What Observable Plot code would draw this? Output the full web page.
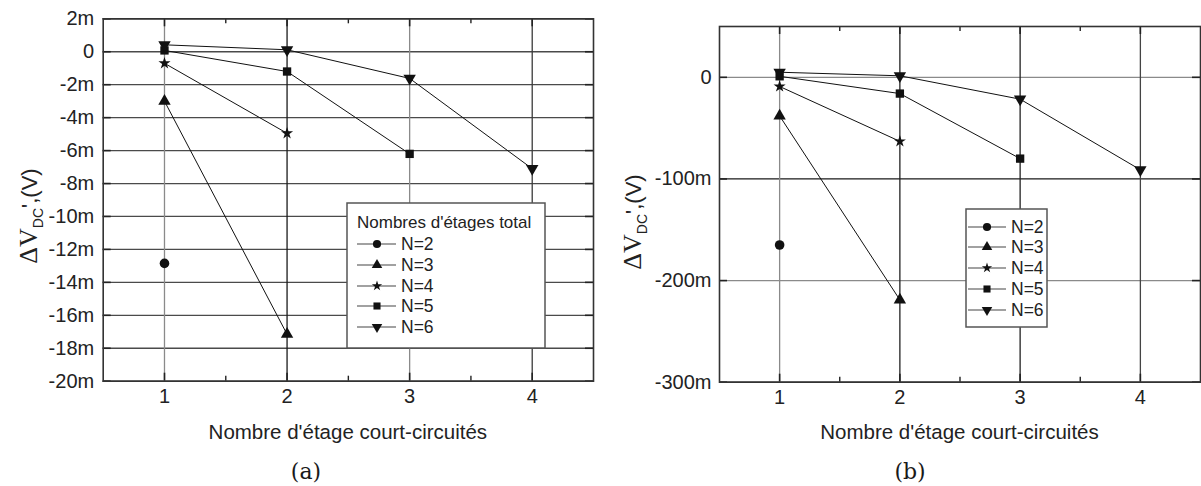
<!DOCTYPE html>
<html>
<head>
<meta charset="utf-8">
<script src="https://cdn.jsdelivr.net/npm/d3@7"></script>
<script src="https://cdn.jsdelivr.net/npm/@observablehq/plot@0.6"></script>
<style>
  html, body { margin: 0; padding: 0; background: #fff; }
  #wrap { position: relative; width: 1201px; height: 486px; overflow: hidden;
          font-family: "Liberation Sans", Arial, sans-serif; color: #222; }
  .panel { position: absolute; top: 0; }
  .legend { position: absolute; }
  .xtitle { position: absolute; font-size: 20.5px; text-align: center; line-height: 22px; white-space: nowrap; }
  .cap { position: absolute; font-family: "DejaVu Serif", "Liberation Serif", serif; font-size: 22px;
         text-align: center; width: 80px; line-height: 26px; color: #1a1a1a; }
</style>
</head>
<body>
<div id="wrap"></div>
<script>
// ---------- data ----------
const stages = [1, 2, 3, 4];
const minorStages = [1.5, 2.5, 3.5];
const seriesNames = ["N=2", "N=3", "N=4", "N=5", "N=6"];

// panel (a) values, in mV, for stages 1..n
const aN2 = [-12.85];
const aN3 = [-3.0, -17.15];
const aN4 = [-0.7, -4.95];
const aN5 = [0.08, -1.2, -6.2];
const aN6 = [0.42, 0.12, -1.62, -7.1];

// panel (b) values, in mV
const bN2 = [-165];
const bN3 = [-38, -219];
const bN4 = [-9, -63];
const bN5 = [1, -16, -80];
const bN6 = [5, 1.5, -21.5, -91];

const yTicksA = [2, 0, -2, -4, -6, -8, -10, -12, -14, -16, -18, -20];
const yTicksB = [0, -100, -200, -300];

const xTitleText = "Nombre d'étage court-circuités";
const legendTitleText = "Nombres d'étages total";
const captionA = "(a)";
const captionB = "(b)";

// ---------- symbols ----------
const triDown = {
  draw(ctx, size) {
    const s3 = Math.sqrt(3);
    const y = -Math.sqrt(size / (s3 * 3));
    ctx.moveTo(0, -y * 2);
    ctx.lineTo(-s3 * y, y);
    ctx.lineTo(s3 * y, y);
    ctx.closePath();
  }
};
const symbolTypes = [d3.symbolCircle, d3.symbolTriangle, d3.symbolStar, d3.symbolSquare, triDown];
const symbolR = {"N=2": 4.8, "N=3": 4.6, "N=4": 3.8, "N=5": 4.7, "N=6": 4.6};

const fmtM = d => d === 0 ? "0" : `${d}m`;
const fmtX = d => String(d);
const wrap = document.getElementById("wrap");

function makePanel(cfg) {
  const rows = [];
  cfg.series.forEach((vals, i) => vals.forEach((v, j) => rows.push({s: seriesNames[i], x: stages[j], y: v})));
  const plotH = cfg.height - cfg.mt - cfg.mb;
  const plotW = cfg.width - cfg.ml - cfg.mr;
  const svg = Plot.plot({
    width: cfg.width, height: cfg.height,
    marginLeft: cfg.ml, marginRight: cfg.mr, marginTop: cfg.mt, marginBottom: cfg.mb,
    x: {domain: [0.5, 4.5]},
    y: {domain: cfg.yDomain},
    r: {type: "identity"},
    symbol: {domain: seriesNames, range: symbolTypes},
    style: {fontFamily: "'Liberation Sans', Arial, sans-serif", fontSize: "20px", color: "#222", background: "transparent", overflow: "visible"},
    marks: [
      Plot.gridY(cfg.yTicks, {stroke: d => cfg.yGrid(d), strokeOpacity: 1, strokeWidth: 1.3}),
      Plot.gridX(stages, {stroke: d => cfg.xGrid(d), strokeOpacity: 1, strokeWidth: 1.3}),
      Plot.ruleX(stages, {insetTop: plotH - 8, stroke: "#222", strokeWidth: 1.6}),
      Plot.ruleX(stages, {insetBottom: plotH - 8, stroke: "#222", strokeWidth: 1.6}),
      Plot.ruleX(minorStages, {insetTop: plotH - 5, stroke: "#222", strokeWidth: 1.4}),
      Plot.ruleX(minorStages, {insetBottom: plotH - 5, stroke: "#222", strokeWidth: 1.4}),
      Plot.ruleY(cfg.yTicks, {insetRight: plotW - 8, stroke: "#222", strokeWidth: 1.6}),
      Plot.ruleY(cfg.yTicks, {insetLeft: plotW - 8, stroke: "#222", strokeWidth: 1.6}),
      Plot.frame({stroke: "#333", strokeWidth: 1.6}),
      Plot.axisY(cfg.yTicks, {tickSize: 0, tickPadding: cfg.yPad, tickFormat: fmtM, label: null, fontSize: 20}),
      Plot.axisX(stages, {tickSize: 0, tickPadding: 8, tickFormat: fmtX, label: null, fontSize: 20}),
      Plot.line(rows, {x: "x", y: "y", z: "s", stroke: "#111", strokeWidth: 1}),
      Plot.dot(rows, {x: "x", y: "y", symbol: "s", r: d => symbolR[d.s], fill: "#111", stroke: "none"})
    ]
  });
  svg.classList.add("panel");
  svg.style.left = cfg.left + "px";
  // y label with subscript
  const t = d3.select(svg).append("text")
    .attr("transform", `translate(${cfg.ylx},${cfg.yly}) rotate(-90)`)
    .attr("text-anchor", "middle")
    .attr("fill", "#222");
  t.append("tspan").attr("font-family", "'Liberation Serif', 'DejaVu Serif', serif").attr("font-size", 26).text("ΔV");
  t.append("tspan").attr("font-family", "'Liberation Sans', Arial, sans-serif").attr("font-size", 14).attr("dy", 6).text("DC");
  t.append("tspan").attr("font-family", "'Liberation Sans', Arial, sans-serif").attr("font-size", 22).attr("dy", -6).text("',(V)");
  wrap.appendChild(svg);

  const xt = document.createElement("div");
  xt.className = "xtitle";
  xt.style.left = (cfg.left + cfg.ml) + "px";
  xt.style.width = plotW + "px";
  xt.style.top = "421px";
  xt.textContent = xTitleText;
  wrap.appendChild(xt);

  const cap = document.createElement("div");
  cap.className = "cap";
  cap.style.left = (cfg.left + cfg.capX - 40) + "px";
  cap.style.top = "459px";
  cap.textContent = cfg.caption;
  wrap.appendChild(cap);
}

function makeLegend(cfg) {
  const svg = d3.create("svg")
    .attr("class", "legend")
    .attr("width", cfg.w + 2).attr("height", cfg.h + 2)
    .style("left", (cfg.x - 1) + "px").style("top", (cfg.y - 1) + "px")
    .style("position", "absolute");
  svg.append("rect").attr("x", 1).attr("y", 1).attr("width", cfg.w).attr("height", cfg.h)
    .attr("fill", "#fff").attr("stroke", "#555").attr("stroke-width", 1.5);
  const ff = "'Liberation Sans', Arial, sans-serif";
  if (cfg.title) {
    svg.append("text").attr("x", cfg.titleX).attr("y", cfg.titleY).attr("font-family", ff)
      .attr("font-size", 17).attr("fill", "#222").attr("dominant-baseline", "middle").text(cfg.title);
  }
  seriesNames.forEach((name, i) => {
    const y = cfg.rowY[i];
    svg.append("line").attr("x1", cfg.lx1).attr("x2", cfg.lx2).attr("y1", y).attr("y2", y)
      .attr("stroke", "#444").attr("stroke-width", 1.2);
    const rr = symbolR[name] * 0.85;
    svg.append("path").attr("d", d3.symbol(symbolTypes[i], Math.PI * rr * rr)())
      .attr("transform", `translate(${cfg.mx},${y})`).attr("fill", "#111");
    svg.append("text").attr("x", cfg.tx).attr("y", y + 1).attr("font-family", ff)
      .attr("font-size", 17.5).attr("fill", "#222").attr("dominant-baseline", "middle").text(name);
  });
  wrap.appendChild(svg.node());
}

makePanel({
  left: 0, width: 600, height: 420, ml: 102.7, mr: 7, mt: 18.3, mb: 39.3,
  yDomain: [-20, 2], yTicks: yTicksA, yPad: 9,
  series: [aN2, aN3, aN4, aN5, aN6],
  xGrid: d => ({1: "#8a8a8a", 2: "#1a1a1a", 3: "#8a8a8a", 4: "#3a3a3a"}[d]),
  yGrid: d => "#4a4a4a",
  ylx: 37, yly: 216, caption: captionA, capX: 306
});
makePanel({
  left: 600, width: 601, height: 420, ml: 119, mr: 1, mt: 26, mb: 38.3,
  yDomain: [-300, 50], yTicks: yTicksB, yPad: 8,
  series: [bN2, bN3, bN4, bN5, bN6],
  xGrid: d => ({1: "#8a8a8a", 2: "#222", 3: "#222", 4: "#444"}[d]),
  yGrid: d => ({0: "#8a8a8a", "-100": "#1a1a1a", "-200": "#8a8a8a", "-300": "#333"}[d]),
  ylx: 41, yly: 222, caption: captionB, capX: 310
});

makeLegend({
  x: 347, y: 203, w: 198, h: 145, title: legendTitleText, titleX: 11, titleY: 22,
  rowY: [42, 63, 84, 104, 125], lx1: 11, lx2: 50, mx: 31, tx: 55
});
makeLegend({
  x: 966, y: 209, w: 81, h: 118, title: null,
  rowY: [19, 39, 60, 81, 102], lx1: 3, lx2: 41, mx: 22, tx: 46
});
</script>
</body>
</html>
